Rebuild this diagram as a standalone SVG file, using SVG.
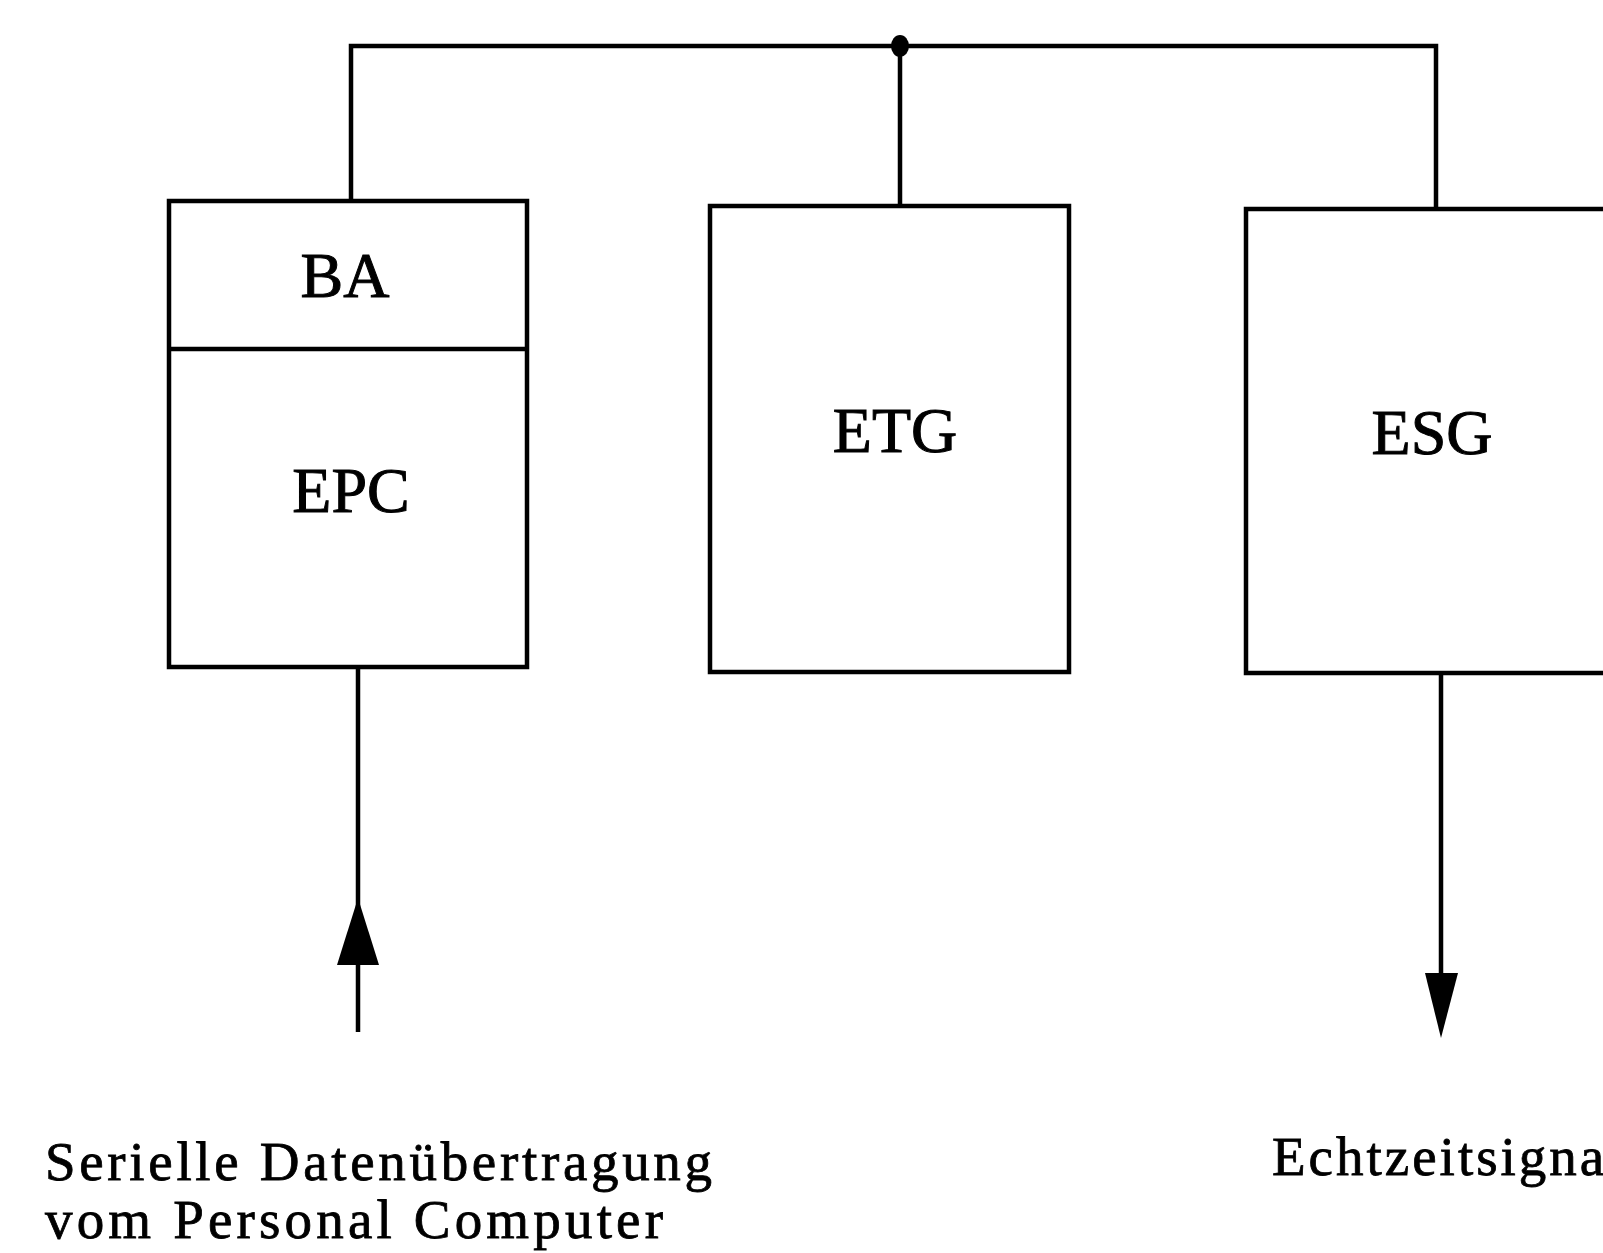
<svg xmlns="http://www.w3.org/2000/svg" width="1603" height="1253" viewBox="0 0 1603 1253">
<style>
.box{fill:none;stroke:#000;stroke-width:4.5}
.ln{fill:none;stroke:#000;stroke-width:4.5}
.lbl{font-family:"Liberation Serif","Times New Roman",serif;font-size:64px;fill:#000;stroke:#000;stroke-width:1;text-anchor:middle}
.cap{font-family:"Liberation Serif","Times New Roman",serif;font-size:55px;fill:#000;stroke:#000;stroke-width:0.8}
</style>
<rect width="1603" height="1253" fill="#fff"/>
<g id="connectors">
<path class="ln" d="M351,201 V46 H1436 V209"/>
<path class="ln" d="M900,46 V206"/>
<ellipse cx="900" cy="46" rx="9" ry="11" fill="#000"/>
<path class="ln" d="M358,667 V1032" stroke-width="5.5"/>
<polygon points="358,898 379,965 337,965" fill="#000"/>
<path class="ln" d="M1441,673 V975"/>
<polygon points="1425,973 1458,973 1441,1038" fill="#000"/>
</g>
<g id="node-ba-epc">
<rect class="box" x="169" y="201" width="358" height="466"/>
<line class="box" x1="169" y1="349" x2="527" y2="349"/>
<text class="lbl" x="345" y="297">BA</text>
<text class="lbl" x="351" y="512">EPC</text>
</g>
<g id="node-etg">
<rect class="box" x="710" y="206" width="359" height="466"/>
<text class="lbl" x="895" y="452">ETG</text>
</g>
<g id="node-esg">
<path class="box" d="M1610,209 H1246 V673 H1610"/>
<text class="lbl" x="1432" y="454">ESG</text>
</g>
<g id="labels">
<text class="cap" x="45" y="1180" textLength="667" lengthAdjust="spacing">Serielle Datenübertragung</text>
<text class="cap" x="45" y="1238" textLength="618" lengthAdjust="spacing">vom Personal Computer</text>
<text class="cap" x="1272" y="1175" letter-spacing="3">Echtzeitsigna</text>
</g>
</svg>
